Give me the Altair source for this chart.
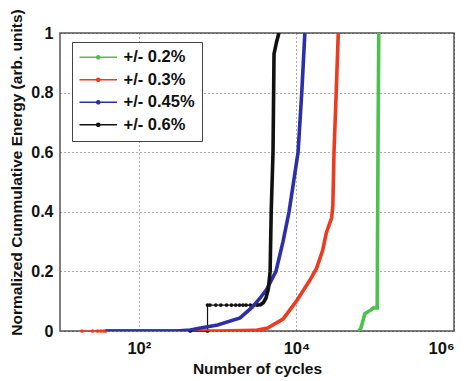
import altair as alt
import pandas as pd

series = ["+/- 0.2%", "+/- 0.3%", "+/- 0.45%", "+/- 0.6%"]
colors = ["#4cc24c", "#ee3b1f", "#2e2ea8", "#111111"]

green_x = [62000, 66000, 70000, 74000, 80000, 88000, 94000, 106000, 107000, 109000, 111000]
green_y = [0.0, 0.01, 0.035, 0.058, 0.064, 0.07, 0.077, 0.077, 0.3, 0.7, 1.0]

red_x = [38, 200, 1000, 3000, 4300, 6760, 10000, 14800, 18000, 21500, 24000, 28000, 29000, 30000, 32000, 34000]
red_y = [0, 0, 0, 0.002, 0.01, 0.04, 0.10, 0.17, 0.21, 0.27, 0.33, 0.38, 0.42, 0.6, 0.8, 1.0]

blue_x = [38, 100, 300, 450, 606, 1000, 1930, 2750, 3450, 4200, 5500, 6760, 8070, 10500, 11700, 12800]
blue_y = [0, 0, 0, 0.003, 0.01, 0.02, 0.044, 0.08, 0.11, 0.14, 0.2, 0.3, 0.4, 0.6, 0.8, 1.0]

black_x = [3160, 3500, 3800, 4100, 4400, 4640, 4790, 5050, 5200, 5600, 6000]
black_y = [0.087, 0.088, 0.095, 0.11, 0.14, 0.2, 0.4, 0.6, 0.93, 0.97, 1.0]

# sparse low parts (thin line with dots)
red_low_x = [19, 26, 30, 33, 36, 38]
red_low_y = [0, 0, 0, 0, 0, 0]
black_low_x = [450, 745, 745, 800, 950, 1100, 1300, 1500, 1700, 1900, 2100, 2300, 2600, 2900, 3160]
black_low_y = [0, 0, 0.087, 0.087, 0.087, 0.087, 0.087, 0.087, 0.087, 0.087, 0.087, 0.087, 0.087, 0.087, 0.087]

x_ticks = [100, 10000, 1000000]
y_ticks = [0, 0.2, 0.4, 0.6, 0.8, 1.0]

rows = []
for name, xs, ys in zip(series, [green_x, red_x, blue_x, black_x], [green_y, red_y, blue_y, black_y]):
    for i, (xv, yv) in enumerate(zip(xs, ys)):
        rows.append({"series": name, "cycles": xv, "energy": yv, "idx": i})
main_df = pd.DataFrame(rows)

low_rows = []
for name, xs, ys in [(series[1], red_low_x, red_low_y), (series[3], black_low_x, black_low_y)]:
    for i, (xv, yv) in enumerate(zip(xs, ys)):
        low_rows.append({"series": name, "cycles": xv, "energy": yv, "idx": i})
low_df = pd.DataFrame(low_rows)

FONT = "Liberation Sans"

xscale = alt.Scale(type="log", domain=[10, 1000000], nice=False)
yscale = alt.Scale(domain=[0, 1], nice=False)
cscale = alt.Scale(domain=series, range=colors)

xaxis = alt.Axis(
    title="Number of cycles", values=x_ticks,
    labelExpr="'10' + (datum.value == 100 ? '²' : datum.value == 10000 ? '⁴' : '⁶')",
    grid=True, gridDash=[1, 3], gridColor="#333", gridOpacity=0.8,
    domain=False, ticks=False, labelPadding=9, titlePadding=5,
    labelFont=FONT, labelFontSize=16.5, labelFontWeight="bold", labelColor="#111",
    titleFont=FONT, titleFontSize=15.5, titleFontWeight="bold", titleColor="#111",
)
yaxis = alt.Axis(
    title="Normalized Cummulative Energy (arb. units)", values=y_ticks,
    labelExpr="format(datum.value, '.1~f')",
    grid=True, gridDash=[1, 3], gridColor="#333", gridOpacity=0.8,
    domain=False, ticks=False, labelPadding=7, titlePadding=6, titleY=139,
    labelFont=FONT, labelFontSize=16, labelFontWeight="bold", labelColor="#111",
    titleFont=FONT, titleFontSize=15.5, titleFontWeight="bold", titleColor="#111",
)

legend = alt.Legend(
    title=None, orient="none", legendX=12, legendY=9,
    strokeColor="#444", fillColor="white", padding=7,
    symbolType="M-3,0H3M0.25,0A0.25,0.25 0 1,1 -0.25,0A0.25,0.25 0 1,1 0.25,0",
    symbolSize=156, symbolStrokeWidth=1.5, symbolOffset=11, labelOffset=17,
    symbolFillColor="transparent",
    rowPadding=5.5, labelFont=FONT, labelFontSize=16.5, labelFontWeight="bold",
    labelColor="#111",
)

color_enc = alt.Color("series:N", scale=cscale, legend=legend, sort=series)

main = alt.Chart(main_df).mark_line(strokeWidth=3.6, clip=True).encode(
    x=alt.X("cycles:Q", scale=xscale, axis=xaxis),
    y=alt.Y("energy:Q", scale=yscale, axis=yaxis),
    color=color_enc,
    order="idx:Q",
)

low_line = alt.Chart(low_df).mark_line(strokeWidth=1.2).encode(
    x=alt.X("cycles:Q", scale=xscale, axis=xaxis),
    y=alt.Y("energy:Q", scale=yscale, axis=yaxis),
    color=color_enc,
    order="idx:Q",
)
low_pts = alt.Chart(low_df).mark_point(size=14, filled=True, opacity=1, shape="circle").encode(
    x=alt.X("cycles:Q", scale=xscale, axis=xaxis),
    y=alt.Y("energy:Q", scale=yscale, axis=yaxis),
    color=color_enc,
)

chart = alt.layer(low_line, low_pts, main).properties(
    width=394, height=298,
    autosize="none",
    padding={"left": 52, "top": 25, "right": 4, "bottom": 48},
    background="white",
).configure_view(stroke="#555", strokeWidth=1.5)

chart.save("out.html", embed_options={"renderer": "svg", "actions": False})
